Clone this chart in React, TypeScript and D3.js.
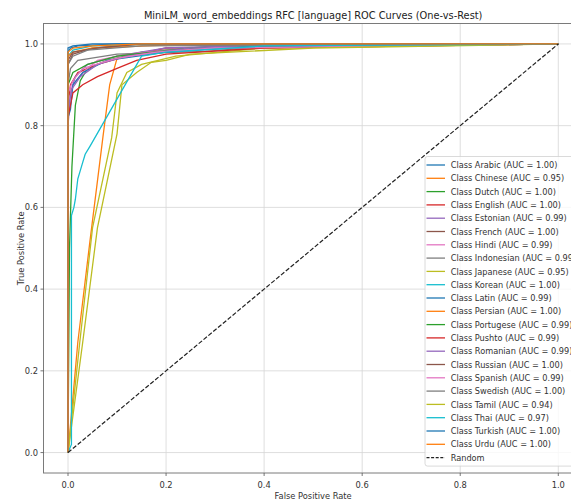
import React, { useEffect, useRef } from 'react';
import * as d3 from 'd3';

// Class names in legend order
const classes: string[] = [
  'Arabic', 'Chinese', 'Dutch', 'English', 'Estonian', 'French', 'Hindi', 'Indonesian',
  'Japanese', 'Korean', 'Latin', 'Persian', 'Portugese', 'Pushto', 'Romanian', 'Russian',
  'Spanish', 'Swedish', 'Tamil', 'Thai', 'Turkish', 'Urdu',
];

const aucs: string[] = [
  '1.00', '0.95', '1.00', '1.00', '0.99', '1.00', '0.99', '0.99',
  '0.95', '1.00', '0.99', '1.00', '0.99', '0.99', '0.99', '1.00',
  '0.99', '1.00', '0.94', '0.97', '1.00', '1.00',
];

// ROC points [fpr, tpr]
const rocArabic = [[0, 0], [0, 0.98], [0.005, 0.99], [0.02, 0.995], [0.1, 1], [1, 1]];
const rocChinese = [[0, 0], [0.02, 0.27], [0.045, 0.52], [0.071, 0.77], [0.085, 0.9], [0.1, 0.965], [0.2, 0.985], [0.4, 0.995], [1, 1]];
const rocDutch = [[0, 0], [0.003, 0.5], [0.008, 0.7], [0.015, 0.85], [0.025, 0.91], [0.04, 0.94], [0.08, 0.96], [0.15, 0.98], [0.3, 0.995], [1, 1]];
const rocEnglish = [[0, 0], [0, 0.85], [0.005, 0.9], [0.02, 0.93], [0.06, 0.95], [0.12, 0.97], [0.2, 0.99], [1, 1]];
const rocEstonian = [[0, 0], [0, 0.8], [0.005, 0.88], [0.015, 0.92], [0.04, 0.95], [0.1, 0.97], [0.2, 0.99], [0.5, 1], [1, 1]];
const rocFrench = [[0, 0], [0, 0.95], [0.01, 0.975], [0.05, 0.99], [0.15, 1], [1, 1]];
const rocHindi = [[0, 0], [0, 0.85], [0.01, 0.9], [0.03, 0.93], [0.06, 0.96], [0.12, 0.975], [0.25, 0.99], [1, 1]];
const rocIndonesian = [[0, 0], [0, 0.9], [0.005, 0.94], [0.02, 0.96], [0.1, 0.975], [0.28, 0.982], [0.4, 0.993], [0.6, 1], [1, 1]];
const rocJapanese = [[0, 0], [0.024, 0.27], [0.05, 0.55], [0.089, 0.77], [0.1, 0.88], [0.12, 0.93], [0.15, 0.95], [0.22, 0.97], [0.4, 0.99], [1, 1]];
const rocKorean = [[0, 0], [0, 0.97], [0.01, 0.985], [0.05, 0.995], [0.2, 1], [1, 1]];
const rocLatin = [[0, 0], [0, 0.82], [0.005, 0.84], [0.01, 0.9], [0.03, 0.93], [0.08, 0.96], [0.2, 0.98], [0.4, 0.995], [1, 1]];
const rocPersian = [[0, 0], [0, 0.97], [0.01, 0.98], [0.05, 0.99], [0.2, 0.997], [1, 1]];
const rocPortugese = [[0, 0], [0, 0.9], [0.01, 0.93], [0.04, 0.95], [0.1, 0.97], [0.25, 0.99], [1, 1]];
const rocPushto = [[0, 0], [0, 0.82], [0.01, 0.88], [0.03, 0.9], [0.06, 0.92], [0.1, 0.94], [0.14, 0.96], [0.2, 0.975], [0.4, 0.99], [1, 1]];
const rocRomanian = [[0, 0], [0, 0.84], [0.008, 0.89], [0.025, 0.92], [0.06, 0.95], [0.12, 0.97], [0.25, 0.99], [1, 1]];
const rocRussian = [[0, 0], [0, 0.96], [0.01, 0.98], [0.06, 0.99], [0.15, 1], [1, 1]];
const rocSpanish = [[0, 0], [0, 0.88], [0.01, 0.91], [0.03, 0.94], [0.07, 0.955], [0.1, 0.965], [0.18, 0.98], [0.3, 0.99], [1, 1]];
const rocSwedish = [[0, 0], [0, 0.95], [0.01, 0.97], [0.04, 0.985], [0.15, 0.995], [1, 1]];
const rocTamil = [[0, 0], [0.03, 0.27], [0.06, 0.55], [0.1, 0.78], [0.11, 0.9], [0.14, 0.93], [0.17, 0.955], [0.2, 0.96], [0.25, 0.975], [0.5, 0.99], [1, 1]];
const rocThai = [[0, 0], [0.007, 0.02], [0.007, 0.58], [0.012, 0.6], [0.015, 0.62], [0.02, 0.67], [0.025, 0.69], [0.03, 0.71], [0.035, 0.73], [0.045, 0.75], [0.15, 0.97], [0.2, 0.98], [0.4, 0.995], [1, 1]];
const rocTurkish = [[0, 0], [0, 0.99], [0.01, 0.995], [0.05, 1], [1, 1]];
const rocUrdu = [[0, 0], [0, 0.98], [0.01, 0.99], [0.05, 0.995], [0.15, 1], [1, 1]];

const rocs: number[][][] = [
  rocArabic, rocChinese, rocDutch, rocEnglish, rocEstonian, rocFrench, rocHindi, rocIndonesian,
  rocJapanese, rocKorean, rocLatin, rocPersian, rocPortugese, rocPushto, rocRomanian, rocRussian,
  rocSpanish, rocSwedish, rocTamil, rocThai, rocTurkish, rocUrdu,
];

const ticks: number[] = [0, 0.2, 0.4, 0.6, 0.8, 1.0];

const tab10 = d3.schemeCategory10;

function drawChart(node: SVGSVGElement) {
  const W = 571;
  const H = 502;
  const left = 43.5, right = 582.8, top = 23.5, bottom = 473;
  const font = 'DejaVu Sans, sans-serif';

  const svg = d3.select(node).attr('width', W).attr('height', H);
  svg.selectAll('*').remove();

  const x = d3.scaleLinear().domain([-0.05, 1.05]).range([left, right]);
  const y = d3.scaleLinear().domain([-0.05, 1.05]).range([bottom, top]);

  svg.append('rect').attr('width', W).attr('height', H).attr('fill', 'white');

  svg.append('defs').append('clipPath').attr('id', 'plot-clip')
    .append('rect')
    .attr('x', left).attr('y', top)
    .attr('width', right - left).attr('height', bottom - top);

  // grid
  const grid = svg.append('g').attr('stroke', '#d6d6d6').attr('stroke-width', 0.8);
  ticks.forEach(t => {
    grid.append('line').attr('x1', x(t)).attr('x2', x(t)).attr('y1', top).attr('y2', bottom);
    grid.append('line').attr('y1', y(t)).attr('y2', y(t)).attr('x1', left).attr('x2', right);
  });

  const line = d3.line<number[]>().x(d => x(d[0])).y(d => y(d[1]));

  const plot = svg.append('g').attr('clip-path', 'url(#plot-clip)');
  rocs.forEach((pts, i) => {
    plot.append('path')
      .attr('d', line(pts))
      .attr('fill', 'none')
      .attr('stroke', tab10[i % 10])
      .attr('stroke-width', 1.3);
  });

  plot.append('path')
    .attr('d', line([[0, 0], [1, 1]]))
    .attr('fill', 'none')
    .attr('stroke', '#222')
    .attr('stroke-width', 1.2)
    .attr('stroke-dasharray', '4.4,1.9');

  // spines
  svg.append('rect')
    .attr('x', left).attr('y', top)
    .attr('width', right - left).attr('height', bottom - top)
    .attr('fill', 'none').attr('stroke', '#7a7a7a').attr('stroke-width', 1);

  // ticks
  const xt = svg.append('g').attr('font-family', font).attr('font-size', 8.3).attr('fill', '#333');
  ticks.forEach(t => {
    xt.append('line').attr('x1', x(t)).attr('x2', x(t)).attr('y1', bottom).attr('y2', bottom + 3)
      .attr('stroke', '#555').attr('stroke-width', 0.8);
    xt.append('text').attr('x', x(t)).attr('y', bottom + 15)
      .attr('text-anchor', 'middle').text(t.toFixed(1));
    xt.append('line').attr('y1', y(t)).attr('y2', y(t)).attr('x1', left - 3).attr('x2', left)
      .attr('stroke', '#555').attr('stroke-width', 0.8);
    xt.append('text').attr('x', left - 5.5).attr('y', y(t) + 3.1)
      .attr('text-anchor', 'end').text(t.toFixed(1));
  });

  svg.append('text')
    .attr('x', (left + right) / 2).attr('y', 499)
    .attr('text-anchor', 'middle')
    .attr('font-family', font).attr('font-size', 8.3).attr('fill', '#333')
    .text('False Positive Rate');

  svg.append('text')
    .attr('transform', `translate(23.5,${(top + bottom) / 2}) rotate(-90)`)
    .attr('text-anchor', 'middle')
    .attr('font-family', font).attr('font-size', 8.3).attr('fill', '#333')
    .text('True Positive Rate');

  svg.append('text')
    .attr('x', (left + right) / 2).attr('y', 19)
    .attr('text-anchor', 'middle')
    .attr('font-family', font).attr('font-size', 9.8).attr('fill', '#222')
    .text('MiniLM_word_embeddings RFC [language] ROC Curves (One-vs-Rest)');

  // legend
  const rowH = 13.3;
  const firstY = 165;
  const lx = 425;
  const entries = classes.map((c, i) => ({ label: `Class ${c} (AUC = ${aucs[i]})`, color: tab10[i % 10], dash: null as string | null }));
  entries.push({ label: 'Random', color: '#222', dash: '3,1.6' });

  const leg = svg.append('g').attr('font-family', font).attr('font-size', 8.2);
  leg.append('rect')
    .attr('x', lx).attr('y', firstY - 8.5)
    .attr('width', right - 4 - lx).attr('height', rowH * (entries.length - 1) + 17)
    .attr('rx', 2.5)
    .attr('fill', 'white').attr('fill-opacity', 0.8)
    .attr('stroke', '#d0d0d0').attr('stroke-width', 0.8);

  entries.forEach((e, i) => {
    const yy = firstY + i * rowH;
    leg.append('line')
      .attr('x1', lx + 1.5).attr('x2', lx + 20)
      .attr('y1', yy).attr('y2', yy)
      .attr('stroke', e.color).attr('stroke-width', 1.3)
      .attr('stroke-dasharray', e.dash);
    leg.append('text')
      .attr('x', lx + 25.7).attr('y', yy + 3.1)
      .attr('fill', '#333')
      .text(e.label);
  });
}

const App = () => {
  const ref = useRef<SVGSVGElement>(null);

  useEffect(() => {
    if (ref.current) drawChart(ref.current);
  }, []);

  return (
    <div style={{ position: 'absolute', left: 0, top: 0 }}>
      <svg ref={ref} style={{ display: 'block' }}></svg>
    </div>
  );
};

export default App;
